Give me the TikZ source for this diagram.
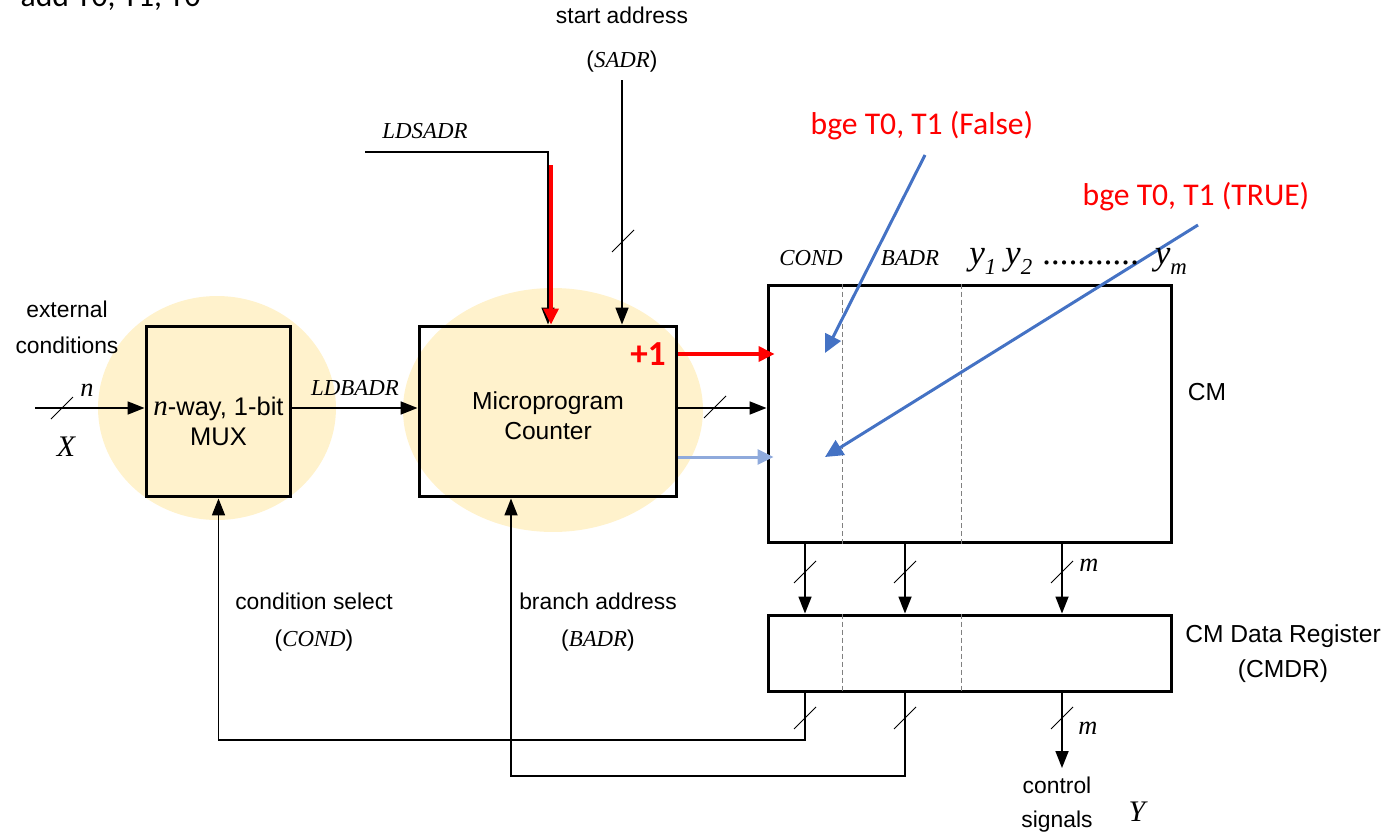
\documentclass[tikz,border=0pt]{standalone}
\usepackage{fontspec}
\setmainfont{Liberation Sans}
\newfontfamily\tnr{Liberation Serif}
\newfontfamily\carl{Carlito}
\usetikzlibrary{arrows.meta,calc}

\definecolor{blue0}{HTML}{4472C4}
\definecolor{ltblue}{HTML}{8FAADC}
\definecolor{gold0}{HTML}{FFF2CC}

\newcommand{\vv}[1]{{\tnr\itshape #1}}
\newcommand{\ysub}[1]{y\raisebox{-0.3em}{\fontsize{13}{13}\selectfont #1}}

\begin{document}
\begin{tikzpicture}[x=0.02cm,y=-0.02cm,
    box/.style={draw,line width=0.06cm,inner sep=0pt},
    arr/.style={line width=0.035cm,-{Triangle[length=0.34cm,width=0.26cm]}},
    redarr/.style={red,line width=0.07cm,-{Triangle[length=0.32cm,width=0.3cm]}},
    ltarr/.style={ltblue,line width=0.06cm,-{Triangle[length=0.32cm,width=0.3cm]}},
    bluearr/.style={blue0,line width=0.06cm,-{Triangle[length=0.36cm,width=0.34cm]}},
    dashln/.style={gray,line width=0.02cm,dash pattern=on 0.1cm off 0.06cm},
    lbl/.style={font=\fontsize{13}{16}\selectfont,align=center,inner sep=0pt},
    redlbl/.style={red,font=\carl\fontsize{18}{20}\selectfont,inner sep=0pt},
    buss/.pic={\draw[line width=0.02cm] (-11,11) -- (11,-11);}]
  \useasboundingbox (0,0) rectangle (1387,835);
  \clip (0,0) rectangle (1387,835);
  % highlighted blocks
  \fill[gold0] (217,408) ellipse [x radius=2.38cm,y radius=2.24cm];
  \fill[gold0] (553,410) ellipse [x radius=3cm,y radius=2.44cm];

  \node[box,minimum width=2.9cm,minimum height=3.42cm] (mux) at (218.5,411.5) {};
  \node[box,minimum width=5.16cm,minimum height=3.42cm] (mpc) at (548,411.5) {};
  \node[box,minimum width=8.08cm,minimum height=5.16cm] (cm) at (970,414) {};
  \node[box,minimum width=8.08cm,minimum height=1.54cm] (cmdr) at (970,653.5) {};
  \foreach \x in {842,961} {
    \draw[dashln] (cm.north -| \x,0) -- (cm.south -| \x,0);
    \draw[dashln] (cmdr.north -| \x,0) -- (cmdr.south -| \x,0);
  }

  % connectors
  \coordinate (xin) at (35,408);
  \coordinate (midrow) at (0,408);
  \coordinate (incr) at (0,354);
  \coordinate (taken) at (0,457);
  \draw[arr] (xin) -- (xin -| mux.west);
  \draw[arr] (mux.east |- midrow) -- (mpc.west |- midrow);
  \coordinate (ldsadr) at (365,152);
  \draw[arr] (ldsadr) -| (mpc.north);
  \coordinate (redtop) at (551,165);
  \draw[redarr] (redtop) -- (redtop |- mpc.north);
  \coordinate (sadr) at (622,80);
  \draw[arr] (sadr) -- (sadr |- mpc.north);
  \draw[redarr,shorten >=-0.16cm] (mpc.east |- incr) -- (cm.west |- incr);
  \draw[arr] (mpc.east |- midrow) -- (cm.west |- midrow);
  \draw[ltarr,shorten >=-0.14cm] (mpc.east |- taken) -- (cm.west |- taken);
  \foreach \x in {805,905,1062}
    \draw[arr] (cm.south -| \x,0) -- (cmdr.north -| \x,0);
  \coordinate (fbc) at (805,740);
  \coordinate (fbb) at (905,776);
  \draw[arr] (cmdr.south -| fbc) -- (fbc) -| (mux.south);
  \draw[arr] (cmdr.south -| fbb) -- (fbb) -| ([xshift=-0.74cm]mpc.south);
  \coordinate (ctl) at (1062,768);
  \draw[arr] (cmdr.south -| ctl) -- (ctl);
  \foreach \p in {(62,408),(715,407),(623,241),(805,572),(905,572),(1062,572),(805,718),(905,718),(1062,718)}
    \pic at \p {buss};

  % annotations
  \coordinate (fa) at (925,155);
  \coordinate (faend) at (825,353);
  \coordinate (tr) at (1198,225);
  \coordinate (trend) at (825,457);
  \draw[bluearr] (fa) -- (faend);
  \draw[bluearr] (tr) -- (trend);
  \node[redlbl] (bgef) at (922,126) {bge T0, T1 (False)};
  \node[redlbl] (bget) at (1196,197) {bge T0, T1 (TRUE)};
  \node[red,font=\carl\bfseries\fontsize{20}{22}\selectfont,inner sep=0pt] (plusone) at (648,354) {+1};
  \node[font=\carl\fontsize{18}{20}\selectfont,anchor=base east,inner sep=0pt] (addtxt) at (201,7) {add T0, T1, T0};

  % labels
  \node[lbl,font=\fontsize{13}{25}\selectfont] (sadrtxt) at (622,40) {start address\\(\vv{SADR})};
  \node[lbl] (ldsadrtxt) at (425,131) {\vv{LDSADR}};
  \node[lbl,font=\fontsize{13}{20.4}\selectfont] (exttxt) at (67,327) {external\\conditions};
  \node[lbl,font=\fontsize{15}{16}\selectfont] (ntxt) at (87,390) {\vv{n}};
  \node[lbl,font=\fontsize{17}{18}\selectfont] (xtxt) at (66,447) {\vv{X}};
  \node[lbl] (ldbadrtxt) at (355,388) {\vv{LDBADR}};
  \node[lbl,font=\fontsize{14.5}{17}\selectfont] (muxtxt) at ([yshift=-0.2cm]mux.center) {\vv{\fontsize{16.5}{17}\selectfont n}-way, 1-bit\\MUX};
  \node[lbl,font=\fontsize{14}{17}\selectfont] (mpctxt) at ([yshift=-0.09cm]mpc.center) {Microprogram\\Counter};
  \node[lbl] (condtxt) at (811,258) {\vv{COND}};
  \node[lbl] (badrtxt) at (910,258) {\vv{BADR}};
  \node[anchor=base west,inner sep=0pt,font=\tnr\itshape\fontsize{20}{22}\selectfont] (ylist) at (969,264)
    {\ysub{1} \ysub{2}\hspace{0.22cm}...........\hspace{0.3cm}\ysub{m}};
  \node[lbl,font=\fontsize{14}{17}\selectfont] (cmtxt) at (1207,392) {CM};
  \node[lbl,font=\fontsize{14}{19.8}\selectfont] (cmdrtxt) at (1283,654) {CM Data Register\\(CMDR)};
  \node[lbl,font=\fontsize{15}{16}\selectfont] (mtxt1) at (1089,565) {\vv{m}};
  \node[lbl,font=\fontsize{15}{16}\selectfont] (mtxt2) at (1088,728) {\vv{m}};
  \node[lbl,font=\fontsize{13}{21.5}\selectfont] (csel) at (314,622) {condition select\\(\vv{COND})};
  \node[lbl,font=\fontsize{13}{21.5}\selectfont] (baddr) at (598,622) {branch address\\(\vv{BADR})};
  \node[lbl,font=\fontsize{13}{19.3}\selectfont] (ctltxt) at (1057,805) {control\\signals};
  \node[lbl,font=\fontsize{17}{18}\selectfont] (ytxt) at (1137,812) {\vv{Y}};
\end{tikzpicture}
\end{document}
